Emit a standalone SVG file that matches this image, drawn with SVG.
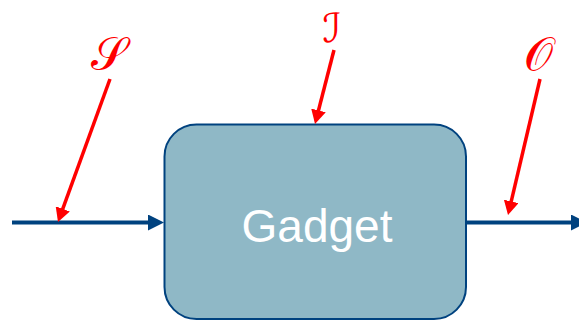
<svg xmlns="http://www.w3.org/2000/svg" width="579" height="320" viewBox="0 0 579 320">
<style>
.blue{stroke:#00427f;stroke-width:4;fill:none}
.red{stroke:#ff0000;stroke-width:3.5;fill:none}
.lbl{fill:#ff0000;font-family:"DejaVu Serif","DejaVu Sans","Noto Sans",serif;font-size:46px;text-anchor:middle}
.ntext{fill:#ffffff;font-family:"Liberation Sans",Arial,sans-serif;font-size:46px;text-anchor:middle}
</style>
<defs>
<marker id="bh" markerUnits="userSpaceOnUse" markerWidth="16" markerHeight="16" refX="6" refY="8" orient="auto">
<path d="M0,0 L16,8 L0,16 z" fill="#00427f"/>
</marker>
<marker id="rh" markerUnits="userSpaceOnUse" markerWidth="14" markerHeight="15" refX="4" refY="7.5" orient="auto">
<path d="M0,0 L14,7.5 L0,15 z" fill="#ff0000"/>
</marker>
</defs>
<g id="gadget">
<rect x="164.5" y="124.5" width="301.5" height="194.5" rx="32" ry="32" fill="#8fb8c6" stroke="#00427f" stroke-width="2"/>
<text class="ntext" x="317" y="241.7">Gadget</text>
</g>
<g id="connectors">
<path class="blue" d="M12,222.5 L154,222.5" marker-end="url(#bh)"/>
<path class="blue" d="M466,222.5 L577,222.5" marker-end="url(#bh)"/>
<path class="red" d="M110,79 L61.4,212.6" marker-end="url(#rh)"/>
<path class="red" d="M334,50 L317.5,114.3" marker-end="url(#rh)"/>
<path class="red" d="M540,79 L510.3,205.3" marker-end="url(#rh)"/>
</g>
<g id="labels">
<text class="lbl" x="108.7" y="70">𝒮</text>
<text class="lbl" x="332" y="42" style="font-size:40px">ℐ</text>
<text class="lbl" x="538.7" y="70">𝒪</text>
</g>
</svg>
